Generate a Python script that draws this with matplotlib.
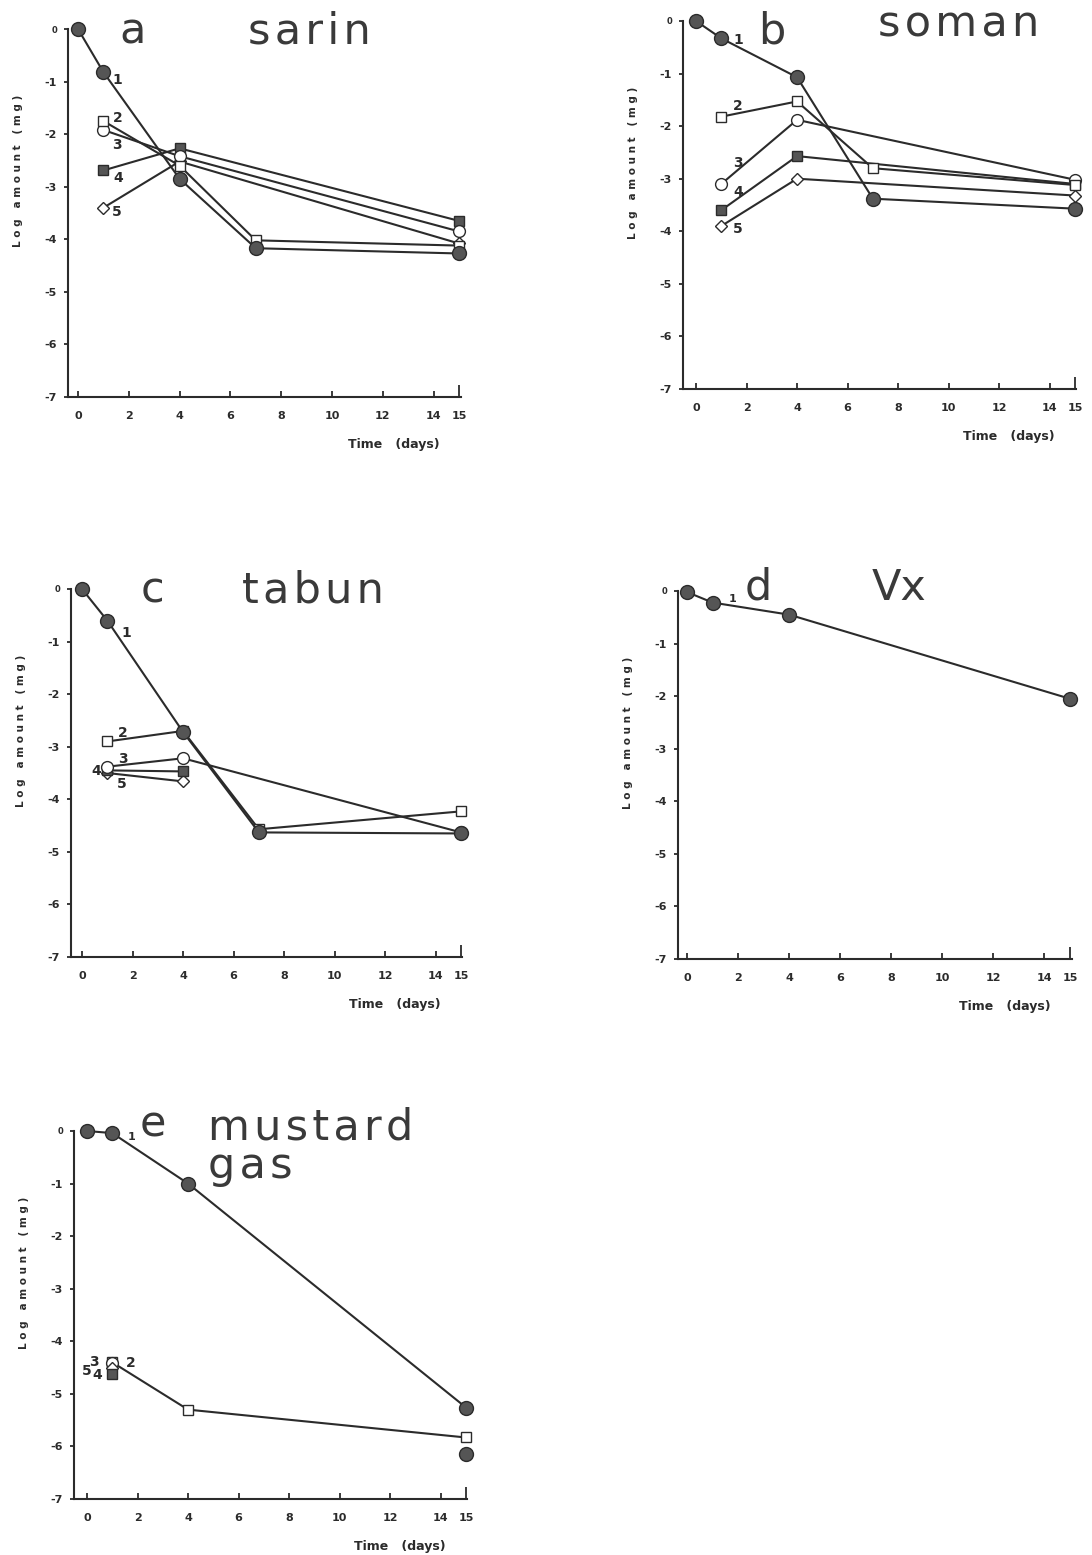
import matplotlib
matplotlib.use("Agg")
import matplotlib.pyplot as plt

plt.rcParams['font.family'] = ['DejaVu Sans']

# ---- data (log amount, mg) ----
# a: sarin
a_days_1 = [0, 1, 4, 7, 15]
a_s1 = [0, -0.82, -2.85, -4.17, -4.27]
a_days_2 = [1, 4, 7, 15]
a_s2 = [-1.75, -2.6, -4.02, -4.12]
a_days_3 = [1, 4, 15]
a_s3 = [-1.92, -2.42, -3.85]
a_s4 = [-2.69, -2.27, -3.65]
a_s5 = [-3.4, -2.52, -4.08]

# b: soman
b_days_1 = [0, 1, 4, 7, 15]
b_s1 = [0, -0.33, -1.07, -3.38, -3.57]
b_days_2 = [1, 4, 7, 15]
b_s2 = [-1.82, -1.53, -2.8, -3.12]
b_days_3 = [1, 4, 15]
b_s3 = [-3.1, -1.88, -3.02]
b_s4 = [-3.6, -2.57, -3.1]
b_s5 = [-3.9, -3.0, -3.32]

# c: tabun
c_days_1 = [0, 1, 4, 7, 15]
c_s1 = [0, -0.6, -2.72, -4.63, -4.65]
c_days_2 = [1, 4, 7, 15]
c_s2 = [-2.9, -2.7, -4.57, -4.23]
c_days_3 = [1, 4, 15]
c_s3 = [-3.38, -3.22, -4.63]
c_days_4 = [1, 4]
c_s4 = [-3.45, -3.47]
c_s5 = [-3.5, -3.66]

# d: Vx
d_days = [0, 1, 4, 15]
d_s1 = [-0.02, -0.22, -0.45, -2.05]

# e: mustard gas
e_days_1 = [0, 1, 4, 15]
e_s1 = [0, -0.04, -1.0, -5.26]
e_days_2 = [1, 4, 15]
e_s2 = [-4.4, -5.3, -5.83]
e_days_3 = [1]
e_s3 = [-4.42]
e_s4 = [-4.62]
e_s5 = [-4.5]
e_extra_days = [15]
e_extra = [-6.15]

y_ticks = [0, -1, -2, -3, -4, -5, -6, -7]
y_ticklabels = ["0", "-1", "-2", "-3", "-4", "-5", "-6", "-7"]
x_ticks = [0, 2, 4, 6, 8, 10, 12, 14]

W, H = 1092, 1555
fig = plt.figure(figsize=(W / 100, H / 100), dpi=100)

INK = "#2b2b2b"
GREY = "#555555"
TITLE = "#3a3a3a"
HAIR = "\u200a"

styles = {
    1: dict(marker="o", ms=10, mfc=GREY, mec=INK),
    2: dict(marker="s", ms=6.5, mfc="white", mec=INK),
    3: dict(marker="o", ms=8.5, mfc="white", mec=INK),
    4: dict(marker="s", ms=7.5, mfc=GREY, mec=INK),
    5: dict(marker="D", ms=6, mfc="white", mec=INK),
}


def tracked(word):
    # the big panel titles are set with loose letter spacing
    return HAIR.join(word)


def add_panel(left, right, top, bottom, x0, x15):
    ax = fig.add_axes([left / W, 1 - bottom / H, (right - left) / W, (bottom - top) / H])
    ppu = (x15 - x0) / 15
    ax.set_xlim((left - x0) / ppu, (right - x0) / ppu)
    ax.set_ylim(-7, 0)
    ax.spines["top"].set_visible(False)
    ax.spines["right"].set_visible(False)
    for s in ["left", "bottom"]:
        ax.spines[s].set_linewidth(1.5)
        ax.spines[s].set_color(INK)

    ax.set_yticks(y_ticks)
    ax.set_yticklabels(y_ticklabels, fontsize=8, fontweight="bold")
    ax.get_yticklabels()[0].set_fontsize(6)
    ax.tick_params(axis="y", direction="out", length=3, width=1.3, pad=5, colors=INK)

    ax.set_xticks(x_ticks)
    ax.set_xticklabels([str(t) for t in x_ticks], fontsize=8, fontweight="bold")
    ax.set_xticks([15], minor=True)
    ax.set_xticklabels(["15"], minor=True, fontsize=8, fontweight="bold")
    ax.tick_params(axis="x", which="major", direction="in", length=4, width=1.3, pad=10, colors=INK)
    ax.tick_params(axis="x", which="minor", direction="in", length=9, width=1.3, pad=10, colors=INK)

    ax.set_xlabel("Time   (days)", loc="right", fontsize=9, fontweight="bold", color=INK)
    ax.xaxis.set_label_coords(1 - 21 / (right - left), -41 / (bottom - top))
    ax.set_ylabel("L o g   a m o u n t   ( m g )", fontsize=7.5, fontweight="bold", color=INK)
    ax.yaxis.set_label_coords(-45 / (right - left), 0.615)
    return ax


def plot_series(ax, days, vals, key, z=3):
    ax.plot(days, vals, color=INK, lw=1.5, clip_on=False, zorder=z, **styles[key])


def label(ax, x, y, txt, size=10):
    ax.text(x, y, txt, fontsize=size, fontweight="bold", color=INK, ha="center", va="center")


def title(ax, x, y, txt, spacing=True):
    if spacing:
        txt = tracked(txt)
    ax.text(x, y, txt, fontsize=31, color=TITLE, va="baseline", ha="left")


# a: sarin
ax = add_panel(68, 461, 29, 397, 78, 459)
plot_series(ax, a_days_3, a_s5, 5)
plot_series(ax, a_days_3, a_s4, 4)
plot_series(ax, a_days_3, a_s3, 3)
plot_series(ax, a_days_2, a_s2, 2)
plot_series(ax, a_days_1, a_s1, 1, z=4)
for x, y, t in [(1.53, -0.97, "1"), (1.57, -1.69, "2"), (1.53, -2.2, "3"),
                (1.57, -2.83, "4"), (1.53, -3.48, "5")]:
    label(ax, x, y, t)
title(ax, 1.63, -0.27, "a")
title(ax, 6.69, -0.27, "sarin")

# b: soman
ax = add_panel(683, 1076, 21, 389, 696, 1075)
plot_series(ax, b_days_3, b_s5, 5)
plot_series(ax, b_days_3, b_s4, 4)
plot_series(ax, b_days_3, b_s3, 3)
plot_series(ax, b_days_2, b_s2, 2)
plot_series(ax, b_days_1, b_s1, 1, z=4)
for x, y, t in [(1.66, -0.36, "1"), (1.66, -1.62, "2"), (1.66, -2.7, "3"),
                (1.66, -3.25, "4"), (1.66, -3.95, "5")]:
    label(ax, x, y, t)
title(ax, 2.45, -0.42, "b")
title(ax, 7.2, -0.3, "soman")

# c: tabun
ax = add_panel(71, 462, 589, 957, 82, 461)
plot_series(ax, c_days_4, c_s5, 5)
plot_series(ax, c_days_4, c_s4, 4)
plot_series(ax, c_days_3, c_s3, 3)
plot_series(ax, c_days_2, c_s2, 2)
plot_series(ax, c_days_1, c_s1, 1, z=4)
for x, y, t in [(1.74, -0.84, "1"), (1.62, -2.74, "2"), (1.62, -3.23, "3"),
                (0.55, -3.46, "4"), (1.58, -3.71, "5")]:
    label(ax, x, y, t)
title(ax, 2.33, -0.25, "c")
title(ax, 6.33, -0.25, "tabun")

# d: Vx
ax = add_panel(678, 1072, 591, 959, 687, 1070)
plot_series(ax, d_days, d_s1, 1, z=4)
label(ax, 1.8, -0.16, "1", size=8)
title(ax, 2.27, -0.17, "d")
title(ax, 7.25, -0.17, "Vx", spacing=False)

# e: mustard gas
ax = add_panel(74, 467, 1131, 1499, 87, 466)
plot_series(ax, e_days_1, e_s1, 1, z=4)
plot_series(ax, e_days_2, e_s2, 2)
plot_series(ax, e_days_3, e_s3, 3)
plot_series(ax, e_days_3, e_s5, 5)
plot_series(ax, e_days_3, e_s4, 4)
plot_series(ax, e_extra_days, e_extra, 1)
for x, y, t in [(1.78, -0.11, "1"), (1.74, -4.41, "2"), (0.28, -4.4, "3"),
                (0.4, -4.64, "4"), (0.0, -4.56, "5")]:
    label(ax, x, y, t, size=8 if t == "1" else 10)
title(ax, 2.1, -0.11, "e")
title(ax, 4.79, -0.17, "mustard")
title(ax, 4.79, -0.89, "gas")

fig.savefig("out.png", dpi=100)
